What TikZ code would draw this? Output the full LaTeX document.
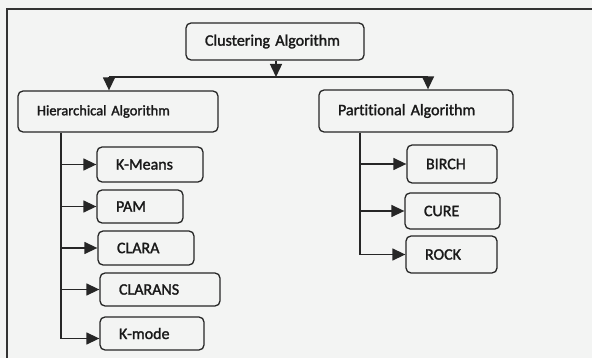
\documentclass[tikz,border=0pt]{standalone}
\usepackage{fontspec}
\setmainfont{Carlito}[Ligatures=NoCommon, FakeBold=1.6]
\usetikzlibrary{arrows.meta}

\tikzset{
  algobox/.style={draw=black!85, line width=1.3pt, rounded corners=5pt, inner xsep=19pt, inner ysep=0pt, align=left, text=black!90, font=\fontsize{16}{19}\selectfont},
  feed/.style={draw=black!85, line width=1.4pt, -{Triangle[length=13pt,width=12pt]}},
  trunk/.style={draw=black!85, line width=1.4pt}
}

\begin{document}
\begin{tikzpicture}[x=1pt,y=1pt,yscale=-1,xscale=1]
\useasboundingbox [fill={rgb,255:red,243; green,244; blue,243}] (0,0) rectangle (592,358);

%Frame
\draw [line width=1.2pt, color=black!80] (7,358) -- (7,9) -- (592,9);

% Top Node
\node [algobox, text width=140pt, minimum height=37pt] (clust) at (275,41.5) {Clustering Algorithm};
% Second Level
\node [algobox, text width=162pt, minimum height=41pt, font=\fontsize{14.5}{17}\selectfont] (hier) at (118,111.5) {Hierarchical Algorithm};
\node [algobox, text width=156pt, minimum height=42pt] (part) at (416,111) {Partitional Algorithm};
% Hierarchical Children
\node [algobox, text width=68pt, minimum height=35pt] (kmeans) at (150,164.5) {K-Means};
\node [algobox, text width=48pt, minimum height=33pt] (pam) at (140,206.5) {PAM};
\node [algobox, text width=58pt, minimum height=34pt] (clara) at (146,248) {CLARA};
\node [algobox, text width=82pt, minimum height=33pt] (clarans) at (160,289.5) {CLARANS};
\node [algobox, text width=66pt, minimum height=33pt] (kmode) at (152,333.5) {K-mode};
% Partitional Children
\node [algobox, text width=52pt, minimum height=38pt] (birch) at (452,164) {BIRCH};
\node [algobox, text width=57pt, minimum height=36pt] (cure) at (452.5,211) {CURE};
\node [algobox, text width=53pt, minimum height=37pt] (rock) at (451.5,254.5) {ROCK};

%Split
\coordinate (split) at (276,77);
\coordinate (lsplit) at (109,77);
\coordinate (rsplit) at (428,77);
\draw [feed] (clust.south -| split) -- (split);
\draw [trunk] (lsplit) -- (rsplit);
\draw [feed] (lsplit) -- (lsplit |- hier.north);
\draw [feed] (rsplit) -- (rsplit |- part.north);

%Trunks
\coordinate (htrunk) at (61,0);
\coordinate (ptrunk) at (360,0);
\draw [feed] (htrunk |- hier.south) |- ([yshift=5pt]kmode.west);
\foreach \n in {kmeans,pam,clara,clarans}
  \draw [feed] (htrunk |- \n.west) -- (\n.west);
\draw [feed] (ptrunk |- part.south) |- (rock.west);
\foreach \n in {birch,cure}
  \draw [feed] (ptrunk |- \n.west) -- (\n.west);

\end{tikzpicture}
\end{document}
